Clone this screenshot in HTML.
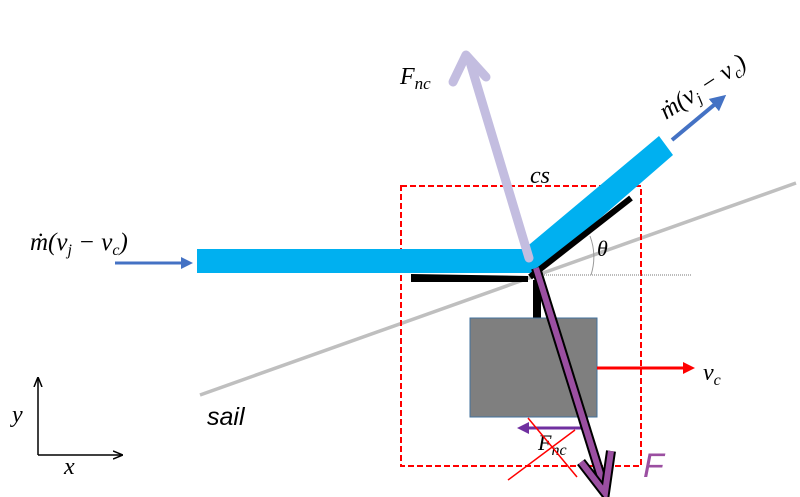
<!DOCTYPE html>
<html><head><style>html,body{margin:0;padding:0;background:#fff}svg{display:block}
.m{font-family:"Liberation Serif",serif;font-style:italic}</style></head><body>
<svg width="800" height="497" viewBox="0 0 800 497" xmlns="http://www.w3.org/2000/svg">
<defs>
<marker id="bh" markerWidth="4" markerHeight="4" refX="2" refY="2" orient="auto" markerUnits="strokeWidth"><path d="M0,0 L4,2 L0,4 z" fill="#4472c4"/></marker>
<marker id="rh" markerWidth="4" markerHeight="4" refX="2" refY="2" orient="auto" markerUnits="strokeWidth"><path d="M0,0 L4,2 L0,4 z" fill="#f00"/></marker>
<marker id="ph" markerWidth="4" markerHeight="4" refX="2" refY="2" orient="auto" markerUnits="strokeWidth"><path d="M0,0 L4,2 L0,4 z" fill="#7030a0"/></marker>
<marker id="kh" markerWidth="10" markerHeight="10" refX="9" refY="5" orient="auto" markerUnits="userSpaceOnUse"><path d="M0,1 L10,5 L0,9" fill="none" stroke="#000" stroke-width="1.5"/></marker>
</defs>
<line x1="200" y1="395" x2="796" y2="183" stroke="#bfbfbf" stroke-width="3.5"/>
<rect x="401" y="186" width="240" height="280" fill="none" stroke="#f00" stroke-width="2" stroke-dasharray="6,3"/>
<line x1="540" y1="275" x2="692" y2="275" stroke="#777" stroke-width="1" stroke-dasharray="1,1"/>
<path d="M590,236 A60,60 0 0 1 591,275" fill="none" stroke="#999" stroke-width="1"/>
<polygon points="197,249 524,249 659,136 673,155 537,273 197,273" fill="#00b0f0"/>
<polygon points="411,274 528,276 528,282 411,282" fill="#000"/>
<line x1="530" y1="277" x2="631" y2="198" stroke="#000" stroke-width="6"/>
<rect x="533" y="280" width="8" height="39" fill="#000"/>
<rect x="470" y="318" width="127" height="99" fill="#7f7f7f" stroke="#41719c" stroke-width="1"/>
<line x1="115" y1="263" x2="187" y2="263" stroke="#4472c4" stroke-width="3" marker-end="url(#bh)"/>
<line x1="672" y1="140" x2="720" y2="100" stroke="#4472c4" stroke-width="4" marker-end="url(#bh)"/>
<line x1="597" y1="368" x2="689" y2="368" stroke="#f00" stroke-width="3" marker-end="url(#rh)"/>
<line x1="585" y1="428" x2="523" y2="428" stroke="#7030a0" stroke-width="3" marker-end="url(#ph)"/>
<line x1="529" y1="258" x2="470" y2="62" stroke="#c3bde0" stroke-width="9" stroke-linecap="round"/>
<path d="M453,82 L466,55 L486,77" fill="none" stroke="#c3bde0" stroke-width="9" stroke-linecap="round" stroke-linejoin="round"/>
<line x1="536" y1="268" x2="602" y2="480" stroke="#000" stroke-width="10"/>
<line x1="536" y1="268" x2="602" y2="480" stroke="#9b4fa1" stroke-width="6"/>
<path d="M581,462 L605,493 L611,451" fill="none" stroke="#000" stroke-width="10" stroke-linejoin="miter"/>
<path d="M581,462 L605,493 L611,451" fill="none" stroke="#9b4fa1" stroke-width="6" stroke-linejoin="miter"/>
<line x1="38" y1="455" x2="38" y2="378" stroke="#000" stroke-width="1.5" marker-end="url(#kh)"/>
<line x1="38" y1="455" x2="122" y2="455" stroke="#000" stroke-width="1.5" marker-end="url(#kh)"/>
<text x="12" y="422" class="m" font-size="24">y</text>
<text x="64" y="474" class="m" font-size="24">x</text>
<text x="207" y="425" font-family="Liberation Sans,sans-serif" font-style="italic" font-size="25">sail</text>
<text x="530" y="183" class="m" font-size="24">cs</text>
<text x="400" y="84" class="m" font-size="24">F<tspan font-size="17" dy="5">nc</tspan></text>
<text x="30" y="250" class="m" font-size="25">ṁ(v<tspan font-size="16" dy="5">j</tspan><tspan dy="-5"> − v</tspan><tspan font-size="16" dy="5">c</tspan><tspan dy="-5">)</tspan></text>
<text x="0" y="0" class="m" font-size="25" transform="translate(666,120) rotate(-33)">ṁ(v<tspan font-size="16" dy="5">j</tspan><tspan dy="-5"> − v</tspan><tspan font-size="16" dy="5">c</tspan><tspan dy="-5">)</tspan></text>
<text x="597" y="256" class="m" font-size="22">θ</text>
<text x="703" y="380" class="m" font-size="24">v<tspan font-size="16" dy="5">c</tspan></text>
<text x="538" y="450" class="m" font-size="22">F<tspan font-size="16" dy="5">nc</tspan></text>
<text x="643" y="477" font-family="Liberation Sans,sans-serif" font-style="italic" font-size="34" fill="#9b4fa1">F</text>
<line x1="508" y1="480" x2="575" y2="430" stroke="#f00" stroke-width="1.5"/>
<line x1="528" y1="418" x2="577" y2="477" stroke="#f00" stroke-width="1.5"/>
</svg>
</body></html>
